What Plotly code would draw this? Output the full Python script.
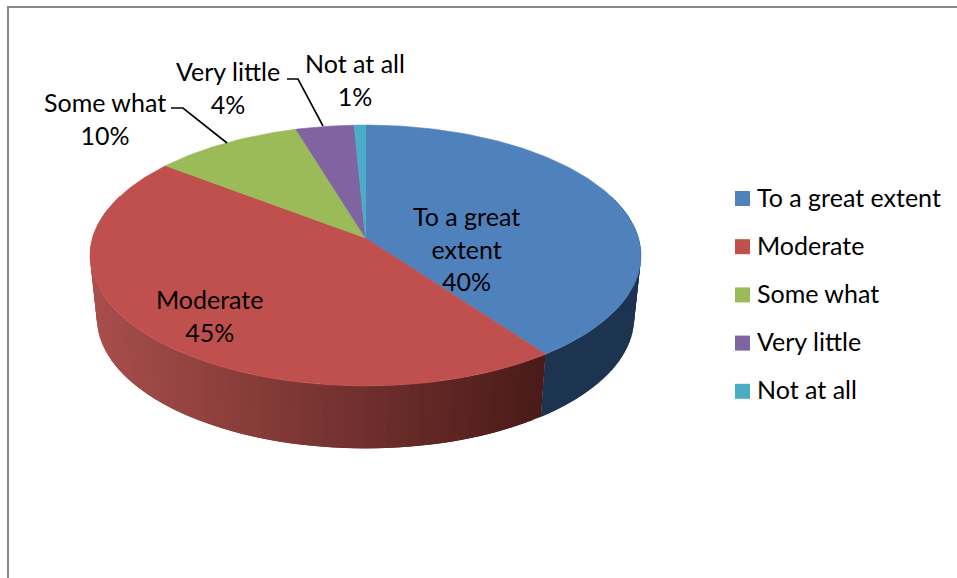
import math
import plotly.graph_objects as go

categories = ["To a great extent", "Moderate", "Some what", "Very little", "Not at all"]
values = [40.0, 45.45, 9.9, 3.9, 0.75]
top_colors = ["#4F81BD", "#C0504D", "#9BBB59", "#8064A2", "#4BACC6"]
side_colors = ["#1D3450", "#C0504D", "#9BBB59", "#8064A2", "#4BACC6"]

W, H = 957, 578
FONT = "Lato"
FS = 25

# Pie geometry (perspective projection of a unit circle)
CX, APEX_Y, R = 365.5, 238.0, 273.0
PERSP, TILT, DEPTH, BOTTOM_SCALE = 0.1341, -96.2, 62.5, 0.975


def top_pt(deg):
    a = math.radians(deg)
    u, v = math.sin(a), math.cos(a)
    d = 1 + PERSP * v
    return CX + R * u / d, (TILT * v + APEX_Y) / d


def bot_pt(deg):
    x, y = top_pt(deg)
    return CX + (x - CX) * BOTTOM_SCALE, y + DEPTH


def mix(c1, c2, t):
    return "rgb(%d,%d,%d)" % tuple(round(a + (b - a) * t) for a, b in zip(c1, c2))


total = sum(values)
edges = [0]
for val in values:
    edges.append(edges[-1] + val / total * 360)

fig = go.Figure()


def poly(xs, ys, color, name, lw=0.6):
    fig.add_trace(go.Scatter(x=xs, y=ys, mode="lines", fill="toself", fillcolor=color,
                             line=dict(color=color, width=lw), hoverinfo="skip",
                             showlegend=False, name=name))


# Side walls: each strip overlaps the next one, so no seams show
STEP = 2.0
for i, (a0, a1) in enumerate(zip(edges[:-1], edges[1:])):
    lo, hi = max(a0, 70), min(a1, 290)
    a = lo
    while a < hi:
        b = min(a + STEP, hi)
        e = min(b + STEP, hi)
        arc = [a, (a + e) / 2, e]
        p = [top_pt(k) for k in arc] + [bot_pt(k) for k in reversed(arc)]
        mx = (top_pt(a)[0] + top_pt(b)[0] + bot_pt(a)[0] + bot_pt(b)[0]) / 4
        if i == 0:
            col = side_colors[0]
        else:
            t = max(0.0, min(1.0, (mx - 95) / (541 - 95)))
            col = mix((74, 27, 25), (168, 78, 75), 1 - t)
        poly([q[0] for q in p] + [p[0][0]], [q[1] for q in p] + [p[0][1]], col, categories[i], lw=0)
        a = b

# Top face slices
for i, (a0, a1) in enumerate(zip(edges[:-1], edges[1:])):
    n = max(4, int((a1 - a0)))
    pts = [top_pt(a0 + (a1 - a0) * k / n) for k in range(n + 1)]
    xs = [CX] + [p[0] for p in pts] + [CX]
    ys = [APEX_Y] + [p[1] for p in pts] + [APEX_Y]
    poly(xs, ys, top_colors[i], categories[i])

# Leader lines
leaders = [([171, 183, 227], [108, 108, 143]), ([287, 298, 323], [79, 79, 126])]
for lx, ly in leaders:
    fig.add_trace(go.Scatter(x=lx, y=ly, mode="lines", line=dict(color="#000000", width=1.6),
                             hoverinfo="skip", showlegend=False))

# Legend swatches
LEG_X, LEG_Y0, LEG_DY = 742.5, 198.5, 48.2
fig.add_trace(go.Scatter(x=[LEG_X] * 5, y=[LEG_Y0 + LEG_DY * i for i in range(5)], mode="markers",
                         marker=dict(symbol="square", size=15, color=top_colors, line=dict(width=0)),
                         hoverinfo="skip", showlegend=False))

ann = []
for i, c in enumerate(categories):
    ann.append(dict(x=755, y=LEG_Y0 - 2 + LEG_DY * i, text=c, xanchor="left", yanchor="middle",
                    showarrow=False, font=dict(family=FONT, size=FS, color="#000000")))

label_texts = ["To a great<br>extent", "Moderate", "Some what", "Very little", "Not at all"]
label_pos = [(466, 248.5), (209, 315.5), (105, 118.5), (228, 87.5), (355, 79.5)]
for t, v, (x, y) in zip(label_texts, values, label_pos):
    ann.append(dict(x=x, y=y, text=f"{t}<br>{round(v)}%", xanchor="center", yanchor="middle",
                    showarrow=False, align="center",
                    font=dict(family=FONT, size=FS, color="#000000")))

# Chart frame (open at right and bottom)
shapes = [dict(type="line", x0=8, x1=8, y0=7, y1=578, line=dict(color="#888888", width=2)),
          dict(type="line", x0=7, x1=957, y0=7, y1=7, line=dict(color="#888888", width=2))]

fig.update_layout(width=W, height=H, margin=dict(l=0, r=0, t=0, b=0), autosize=False,
                  paper_bgcolor="white", plot_bgcolor="white", showlegend=False,
                  xaxis=dict(range=[0, W], visible=False, fixedrange=True),
                  yaxis=dict(range=[H, 0], visible=False, fixedrange=True),
                  annotations=ann, shapes=shapes)
fig.write_html("out.html", config={"displayModeBar": False},
               post_script="document.body.style.margin='0';document.body.style.overflow='hidden';")
